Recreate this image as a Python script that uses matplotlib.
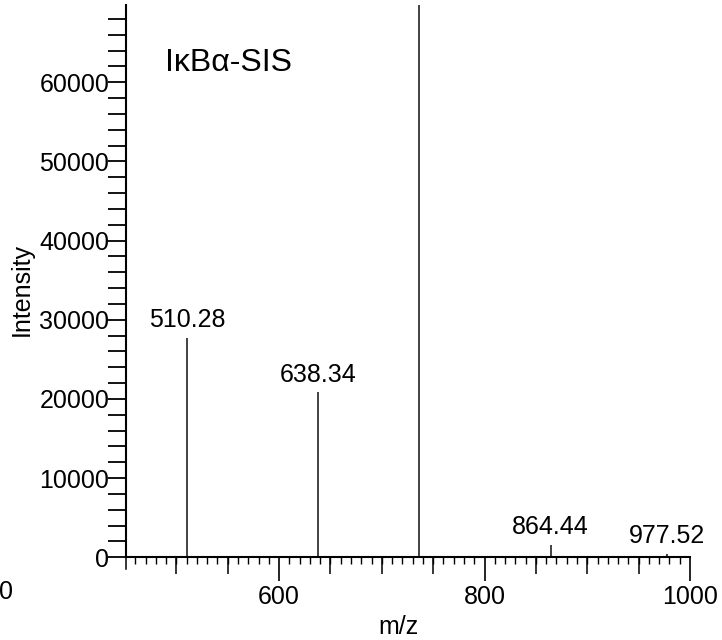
import matplotlib
matplotlib.use("Agg")
import matplotlib.pyplot as plt
from matplotlib.ticker import MultipleLocator

plt.rcParams['font.family'] = ['Liberation Sans', 'DejaVu Sans']

# peaks
mz = [510.28, 638.34, 736.4, 864.44, 977.52]
intensity = [27700, 20850, 90000, 1550, 420]
labels = ['510.28', '638.34', '', '864.44', '977.52']

x_ticks = [600, 800, 1000]
y_ticks = [0, 10000, 20000, 30000, 40000, 50000, 60000]

fig = plt.figure(figsize=(7.22, 6.4), dpi=100)
ax = fig.add_axes([126 / 722, 82.7 / 640, 564 / 722, 552.6 / 640])

ax.vlines(mz, 0, intensity, color='#222222', lw=1.2)
for m, h, lab in zip(mz, intensity, labels):
    if lab:
        ax.annotate(lab, (m, h), xytext=(0, 4), textcoords='offset points',
                    ha='center', va='bottom', fontsize=18)

ax.set_xlim(451, 1000)
ax.set_ylim(0, 69800)

for s in ['top', 'right']:
    ax.spines[s].set_visible(False)
for s in ['left', 'bottom']:
    ax.spines[s].set_linewidth(1.5)

ax.set_xticks(x_ticks)
ax.xaxis.set_minor_locator(MultipleLocator(10))
ax.set_yticks(y_ticks)
ax.yaxis.set_minor_locator(MultipleLocator(2000))
ax.tick_params(axis='x', which='major', length=17, width=1.2, labelsize=18, pad=3)
ax.tick_params(axis='x', which='minor', length=5, width=1)
ax.tick_params(axis='y', which='both', length=13, width=1.3, labelsize=18, pad=-1)

# medium ticks every 50 on the x axis
sec = ax.secondary_xaxis('bottom')
sec.set_xticks([v for v in range(500, 1001, 50) if v % 200])
sec.tick_params(length=12, width=1.1, labelbottom=False)
sec.spines['bottom'].set_visible(False)
ax.plot([451, 451], [0, -12 / 552.6], transform=ax.get_xaxis_transform(),
        clip_on=False, color='black', lw=1.1)

ax.text(0.07, 0.8945, 'I\u03baB\u03b1-SIS', transform=ax.transAxes, fontsize=23,
        va='center')

fig.text(22 / 722, 1 - 289 / 640, 'Intensity', rotation=90, ha='center',
         va='center', fontsize=18)
fig.text(398 / 722, 1 - 627 / 640, 'm/z', ha='center', va='center', fontsize=18)
fig.text(6 / 722, 1 - 592 / 640, '0', ha='center', va='center', fontsize=18)

fig.savefig('out.png', dpi=100)
